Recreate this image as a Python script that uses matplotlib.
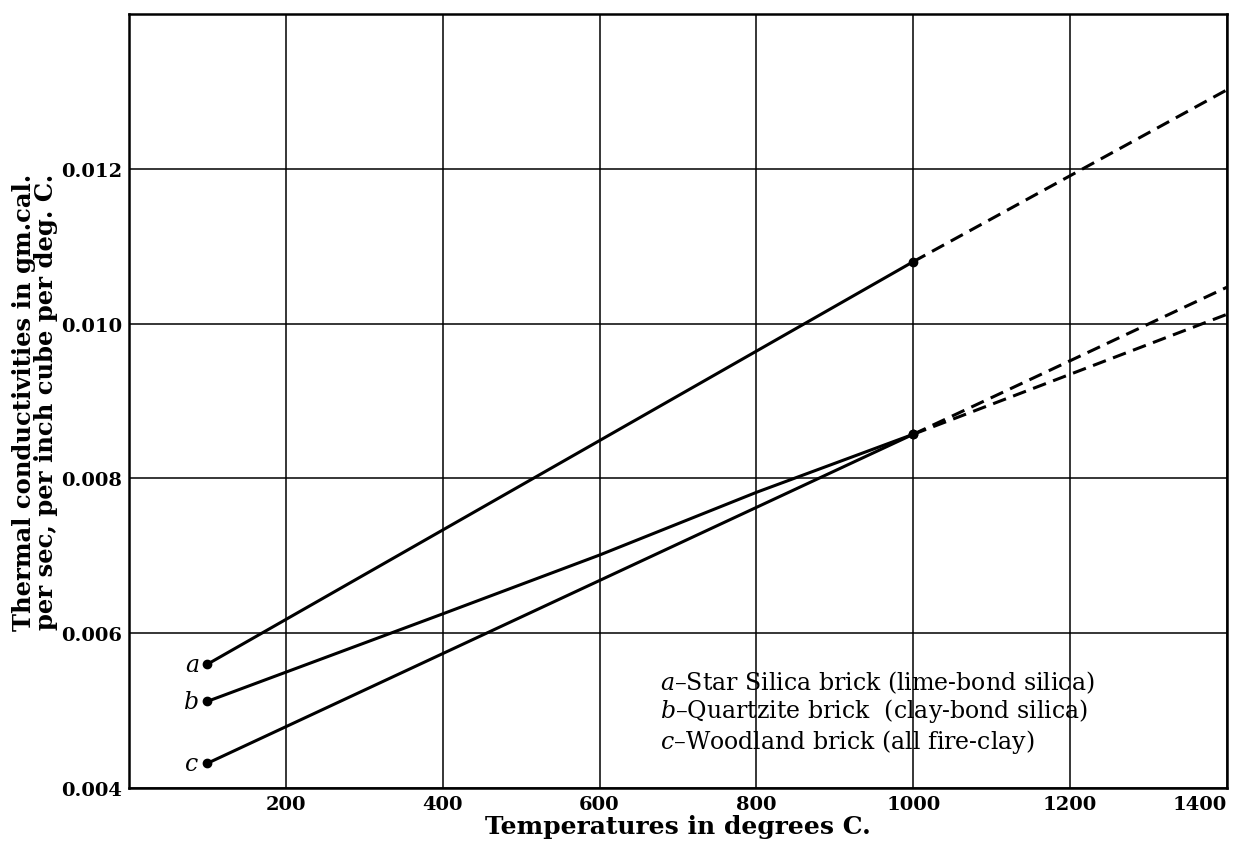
import matplotlib.pyplot as plt

plt.rcParams["font.family"] = ["DejaVu Serif"]
plt.rcParams["mathtext.fontset"] = "custom"
plt.rcParams["mathtext.it"] = "DejaVu Serif:italic"

# ---------- data ----------
temps_a = [100, 1000]
cond_a = [0.00560, 0.01080]
temps_b = [100, 400, 600, 800, 1000]
cond_b = [0.00512, 0.00625, 0.00701, 0.00782, 0.00857]
temps_c = [100, 1000]
cond_c = [0.00432, 0.00857]

# extrapolated (dashed) parts
ext_temps = [1000, 1400]
ext_a = [0.01080, 0.01302]
ext_b = [0.00857, 0.01012]
ext_c = [0.00857, 0.01047]

letters = ["a", "b", "c"]
legend_texts = ["–Star Silica brick (lime-bond silica)",
                "–Quartzite brick  (clay-bond silica)",
                "–Woodland brick (all fire-clay)"]

x_ticks = [200, 400, 600, 800, 1000, 1200, 1400]
y_ticks = [0.004, 0.006, 0.008, 0.010, 0.012]

# ---------- plot ----------
fig = plt.figure(figsize=(12.49, 8.53), dpi=100)
ax = fig.add_axes([0.1033, 0.075, 0.879, 0.9074])

lw = 2.2
for t, c in [(temps_a, cond_a), (temps_b, cond_b), (temps_c, cond_c)]:
    ax.plot(t, c, color="black", lw=lw, solid_capstyle="round")
    ax.plot([t[0], t[-1]], [c[0], c[-1]], "o", color="black", ms=6, lw=0)

for e in [ext_a, ext_b, ext_c]:
    ax.plot(ext_temps, e, color="black", lw=lw, dashes=(4.5, 2.5))

# curve letters at the start points
for t, c, let in [(temps_a, cond_a, "a"), (temps_b, cond_b, "b"), (temps_c, cond_c, "c")]:
    ax.annotate("$" + let + "$", (t[0], c[0]), xytext=(-6, 0), textcoords="offset points",
                ha="right", va="center", fontsize=17)

# key in the lower right
key_y = [0.138, 0.101, 0.061]
for let, txt, yy in zip(letters, legend_texts, key_y):
    ax.text(0.484, yy, "$" + let + "$" + txt, transform=ax.transAxes,
            fontsize=17, va="center", ha="left")

ax.set_xlim(0, 1400)
ax.set_ylim(0.004, 0.014)
ax.set_xticks(x_ticks)
ax.set_yticks(y_ticks)
ax.set_xticklabels([str(v) for v in x_ticks], fontweight="bold", fontsize=14)
ax.set_yticklabels(["%.3f" % v for v in y_ticks], fontweight="bold", fontsize=14)
ax.tick_params(length=0, pad=5)
# last x label pulled in so it stays inside the figure
ax.get_xticklabels()[-1].set_horizontalalignment("right")
ax.get_xticklabels()[-1].set_x(1.0)
ax.grid(True, color="black", lw=1.1)
for s in ax.spines.values():
    s.set_linewidth(1.8)

ax.set_xlabel("Temperatures in degrees C.", fontweight="bold", fontsize=18, labelpad=1)
ax.set_ylabel("Thermal conductivities in gm.cal.\nper sec, per inch cube per deg. C.",
              fontweight="bold", fontsize=17.5, labelpad=2, linespacing=0.9)

plt.savefig("out.png", dpi=100)
